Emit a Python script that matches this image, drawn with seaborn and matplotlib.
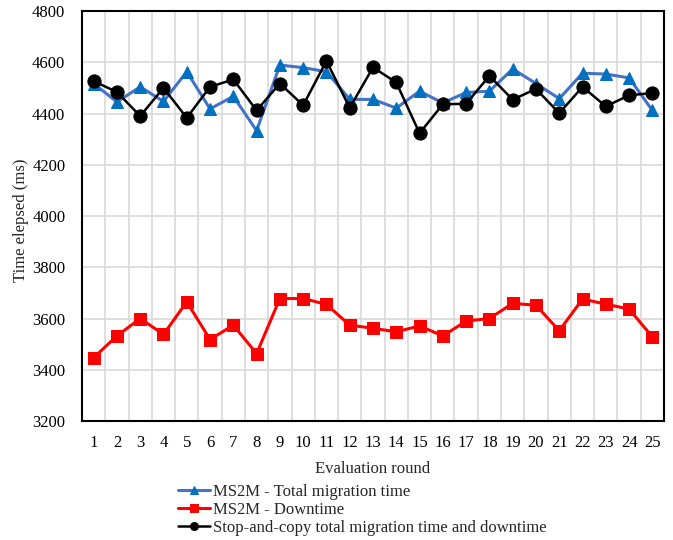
import numpy as np
import pandas as pd
import matplotlib
matplotlib.use("Agg")
import matplotlib.pyplot as plt
import seaborn as sns

rounds = list(range(1, 26))
ms2m_total = [4517, 4445, 4504, 4447, 4563, 4418, 4467, 4333, 4589, 4579,
              4563, 4455, 4455, 4421, 4487, 4441, 4482, 4487, 4574, 4517,
              4458, 4557, 4554, 4539, 4412]
ms2m_down = [3447, 3532, 3600, 3538, 3665, 3518, 3574, 3463, 3678, 3678,
             3655, 3574, 3562, 3548, 3571, 3532, 3590, 3600, 3659, 3652,
             3552, 3676, 3656, 3637, 3528]
stop_copy = [4526, 4484, 4390, 4500, 4383, 4504, 4533, 4412, 4517, 4432,
             4605, 4422, 4580, 4521, 4323, 4436, 4438, 4547, 4454, 4496,
             4401, 4504, 4428, 4471, 4480]
labels = ["MS2M - Total migration time", "MS2M - Downtime",
          "Stop-and-copy total migration time and downtime"]

sns.set_style("white")
plt.rcParams['font.family'] = ['Liberation Serif', 'DejaVu Serif']
plt.rcParams['font.size'] = 12

fig = plt.figure(figsize=(6.73, 5.40), dpi=100)
ax = fig.add_axes([82/673, 1-421/540, (664-82)/673, (421-11)/540])

sns.lineplot(x=rounds, y=ms2m_total, ax=ax, color="#4472C4", linewidth=2.2,
             marker="^", markersize=9, markerfacecolor="#0070C0",
             markeredgecolor="#0070C0", label=labels[0])
sns.lineplot(x=rounds, y=ms2m_down, ax=ax, color="#FF0000", linewidth=2.2,
             marker="s", markersize=8.5, markerfacecolor="#FF0000",
             markeredgecolor="#FF0000", label=labels[1])
sns.lineplot(x=rounds, y=stop_copy, ax=ax, color="black", linewidth=1.8,
             marker="o", markersize=9.5, markerfacecolor="black",
             markeredgecolor="black", label=labels[2])

ax.set_xlim(0.5, 25.5)
ax.set_ylim(3200, 4800)
ax.set_xticks(rounds)
ax.set_xticklabels([str(r) for r in rounds])
ax.set_xticks(np.arange(1.5, 25.5, 1.0), minor=True)
ax.set_yticks(np.arange(3200, 4801, 200))
ax.grid(False)
ax.grid(True, which="minor", axis="x", color="#D9D9D9", linewidth=1.2)
ax.grid(True, which="major", axis="y", color="#D9D9D9", linewidth=1.2)
ax.tick_params(axis="both", which="both", length=0, labelsize=12, colors="black")
ax.tick_params(axis="x", pad=10)
ax.tick_params(axis="y", pad=12)
for s in ax.spines.values():
    s.set_visible(True)
    s.set_color("black")
    s.set_linewidth(1.5)
ax.set_xlabel("Evaluation round", fontsize=12, labelpad=7)
ax.set_ylabel("Time elepsed (ms)", fontsize=12)
ax.yaxis.set_label_coords((29-82)/582, 0.49)

handles, labs = ax.get_legend_handles_labels()
ax.get_legend().remove()
fig.legend(handles, labs, loc="upper left", bbox_to_anchor=(178/673, 1-484/540),
           frameon=False, fontsize=12, handlelength=1.9, handletextpad=0.2,
           labelspacing=0.12, borderpad=0, borderaxespad=0, markerscale=0.6)

fig.savefig("out.png", dpi=100)
